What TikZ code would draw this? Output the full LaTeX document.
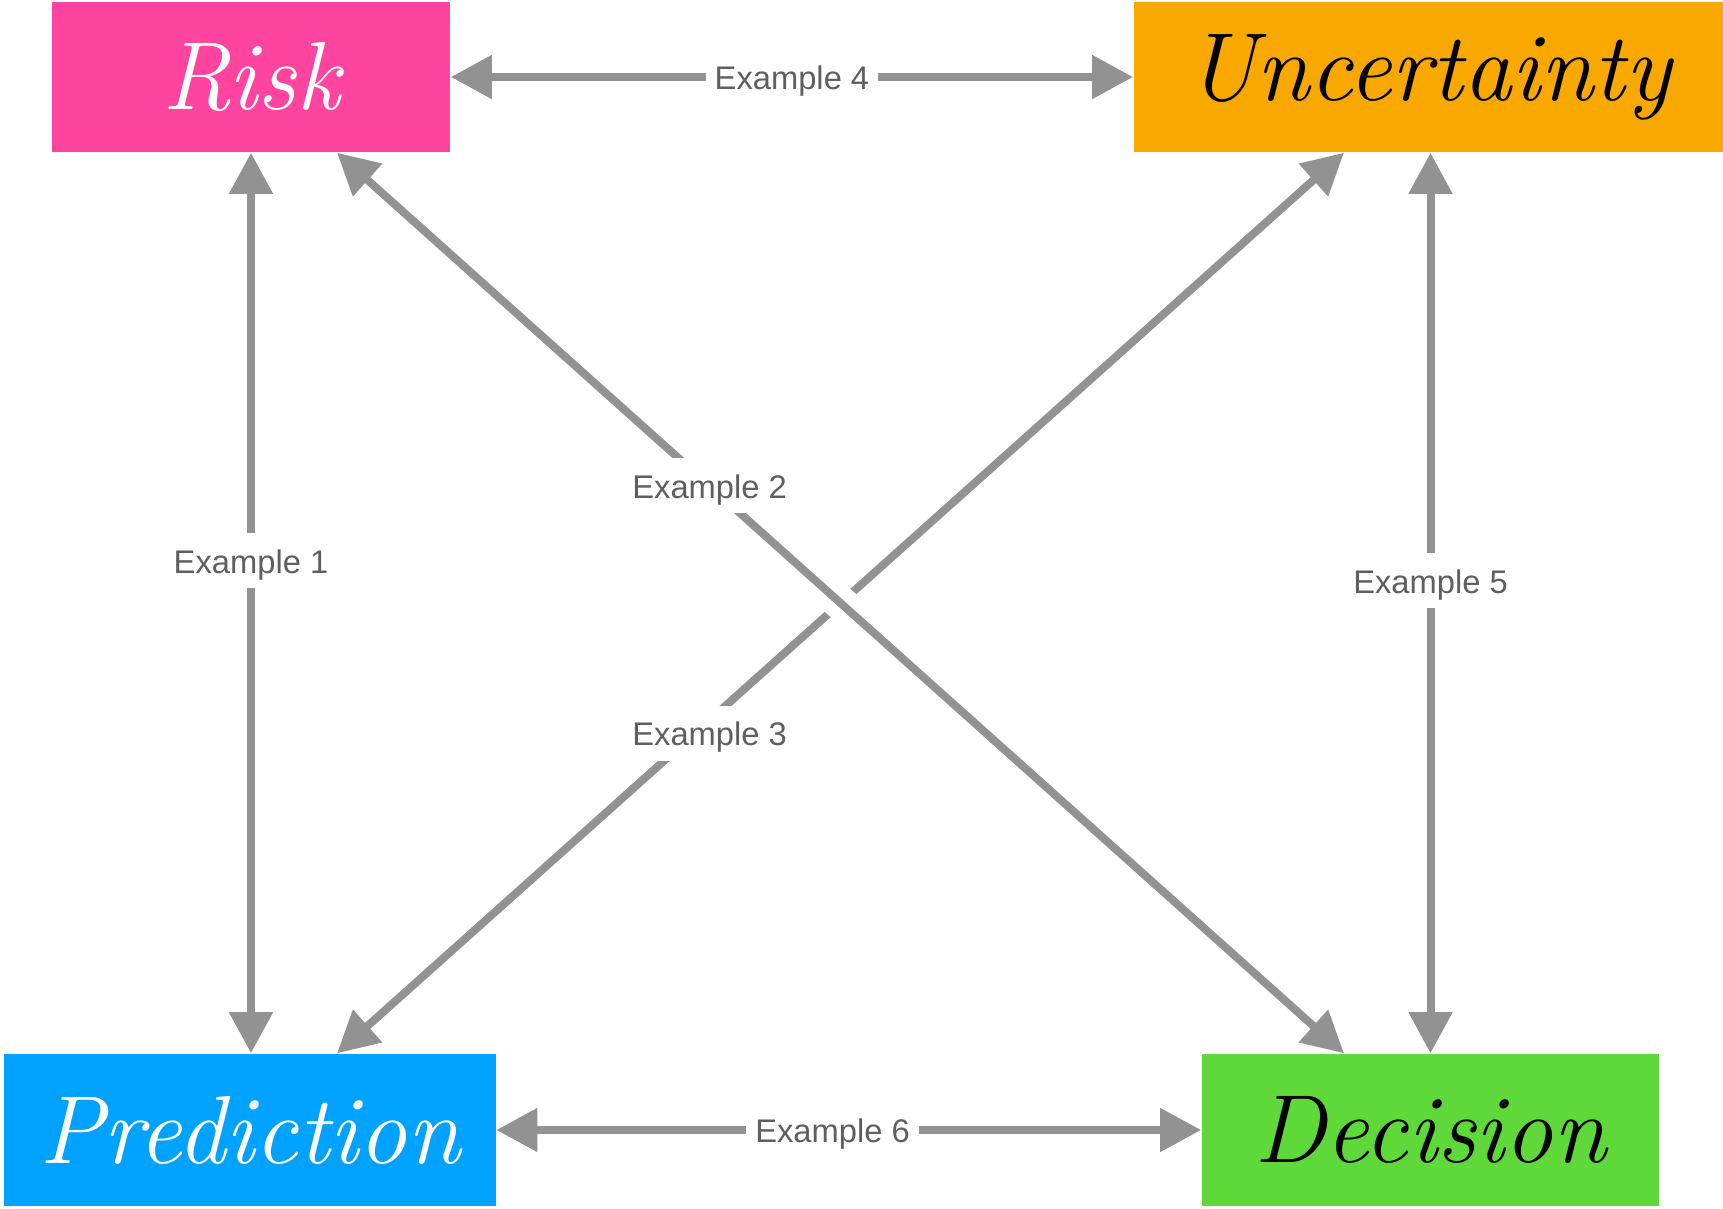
\documentclass[tikz,border=0pt]{standalone}
\usepackage{fontspec}
\setsansfont{Liberation Sans}
\usetikzlibrary{arrows.meta,calc}
\definecolor{riskpink}{HTML}{FF449F}
\definecolor{uncorange}{HTML}{F9A800}
\definecolor{predblue}{HTML}{00A2FF}
\definecolor{decgreen}{HTML}{5FD83A}
\definecolor{arrowgray}{HTML}{929292}
\definecolor{labelgray}{HTML}{5F5F5F}
\tikzset{
  box/.style={rectangle, inner sep=0pt, minimum height=1.5cm,
    font=\fontsize{27.5pt}{30pt}\selectfont\itshape},
  link/.style={draw=arrowgray, line width=0.08cm,
    {Triangle[length=0.41cm,width=0.42cm]}-{Triangle[length=0.41cm,width=0.42cm]}},
  lbl/.style={fill=white, text=labelgray, inner xsep=0.09cm, inner ysep=0.12cm,
    text height=0.8em, text depth=0.08em,
    font=\sffamily\fontsize{9.3pt}{11pt}\selectfont}
}
\begin{document}
\begin{tikzpicture}[x=0.01cm,y=-0.01cm]
\useasboundingbox (0,0) rectangle (1723,1208);
% boxes
\node[box, fill=riskpink, text=white, minimum width=3.98cm] (risk) at (251,77) {Risk};
\node[box, fill=uncorange, text=black, minimum width=5.89cm] (unc) at (1428.5,77) {Uncertainty};
\node[box, fill=predblue, text=white, minimum width=4.91cm, minimum height=1.52cm] (pred) at (250,1130) {Prediction};
\node[box, fill=decgreen, text=black, minimum width=4.57cm, minimum height=1.52cm] (dec) at (1430.5,1130) {Decision};
% anchor points for diagonals
\coordinate (r2) at ([xshift=0.86cm]risk.south);
\coordinate (d2) at ([xshift=-0.865cm]dec.north);
\coordinate (p3) at ([xshift=0.87cm]pred.north);
\coordinate (u3) at ([xshift=-0.845cm]unc.south);
% Example 4
\draw[link] (risk.east) -- node[lbl, pos=0.5] (l4) {Example 4} (unc.west);
% Example 1
\draw[link] (risk.south) -- node[lbl, pos=0.453] (l1) {Example 1} (risk.south |- pred.north);
% Example 5
\draw[link] (dec.north |- unc.south) -- node[lbl, pos=0.475] (l5) {Example 5} (dec.north);
% Example 6
\draw[link] (pred.east) -- node[lbl, pos=0.477] (l6) {Example 6} (dec.west);
% Example 3
\draw[link] (p3) -- node[lbl, pos=0.37, yshift=-0.13cm] (l3) {Example 3} (u3);
% gap at crossing
\draw[white, line width=0.34cm] ($(r2)!0.42!(d2)$) -- ($(r2)!0.58!(d2)$);
% Example 2
\draw[link] (r2) -- node[lbl, pos=0.37] (l2) {Example 2} (d2);
\end{tikzpicture}
\end{document}
